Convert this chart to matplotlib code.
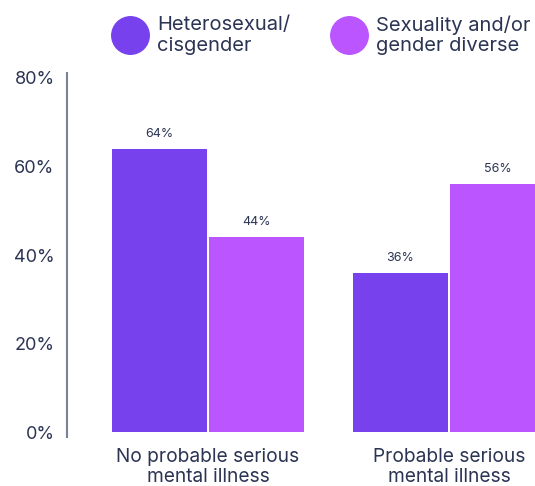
import matplotlib.pyplot as plt
from matplotlib.lines import Line2D

groups = ['No probable serious\nmental illness', 'Probable serious\nmental illness']
series = ['Heterosexual/\ncisgender', 'Sexuality and/or\ngender diverse']
hetero = [64, 36]
diverse = [44, 56]
yticks = [0, 20, 40, 60, 80]

purple = '#7741EE'
pink = '#BB55FF'
ink = '#2B3453'

plt.rcParams['font.family'] = ['Inter', 'DejaVu Sans']

fig = plt.figure(figsize=(5.35, 4.86), dpi=100)
ax = fig.add_axes([67 / 535, 49 / 486, 1 - 67 / 535, 364 / 486])

x = [0, 1]
w = 0.394
off = 0.203
b1 = ax.bar([i - off for i in x], hetero, w, color=purple)
b2 = ax.bar([i + off for i in x], diverse, w, color=pink)

for bars, vals in ((b1, hetero), (b2, diverse)):
    for b, v in zip(bars, vals):
        ax.text(b.get_x() + b.get_width() / 2, v + 2.0, f'{v}%',
                ha='center', va='bottom', fontsize=9, color=ink)

ax.set_xlim(-0.585, 1.357)
ax.set_ylim(-1.1, 81.1)
ax.set_yticks(yticks)
ax.set_yticklabels([f'{t}%' for t in yticks], fontsize=13, color=ink)
ax.set_xticks(x)
ax.set_xticklabels(groups, fontsize=13.8, color=ink, linespacing=1.15)
ax.tick_params(axis='both', length=0)
ax.tick_params(axis='y', pad=9)
ax.tick_params(axis='x', pad=8)

for s in ('top', 'right', 'bottom'):
    ax.spines[s].set_visible(False)
ax.spines['left'].set_color('#7A8199')
ax.spines['left'].set_linewidth(1.5)

handles = [Line2D([], [], marker='o', ls='', markersize=27, color=c) for c in (purple, pink)]
fig.legend(handles, series, loc='upper left', bbox_to_anchor=(97 / 535, 1.0),
           ncol=2, frameon=False, fontsize=14.5, labelcolor=ink,
           handletextpad=0.42, columnspacing=2.05, borderaxespad=0.35,
           labelspacing=0.2, handlelength=1.8)

fig.savefig('out.png', dpi=100)
